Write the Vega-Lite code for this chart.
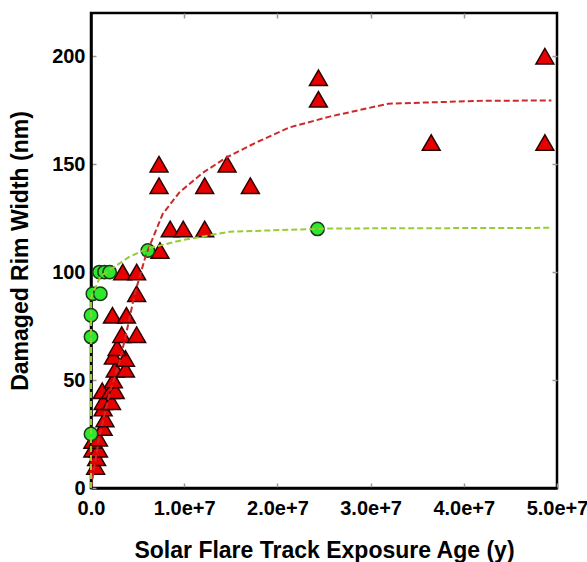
{
  "$schema": "https://vega.github.io/schema/vega-lite/v6.json",
  "width": 466,
  "height": 475,
  "autosize": "none",
  "padding": {"left": 91, "top": 13, "right": 30, "bottom": 74},
  "background": "white",
  "config": {
    "view": {"stroke": "black", "strokeWidth": 2.5},
    "axis": {
      "grid": false,
      "domainColor": "black",
      "domainWidth": 2.5,
      "tickColor": "#999999",
      "tickWidth": 1.5,
      "tickSize": -5,
      "labelFont": "Liberation Sans",
      "labelFontWeight": "bold",
      "labelFontSize": 20,
      "labelColor": "black",
      "titleFont": "Liberation Sans",
      "titleFontWeight": "bold",
      "titleFontSize": 23,
      "titleColor": "black",
      "labelOverlap": false,
      "labelFlush": false,
      "labelBound": false
    }
  },
  "datasets": {
    "tri": [
      {"age": 500000, "rim": 10}, {"age": 600000, "rim": 14}, {"age": 200000, "rim": 18},
      {"age": 800000, "rim": 18}, {"age": 200000, "rim": 22}, {"age": 800000, "rim": 23},
      {"age": 1300000, "rim": 28}, {"age": 1500000, "rim": 32}, {"age": 1300000, "rim": 37},
      {"age": 1300000, "rim": 40}, {"age": 2200000, "rim": 40}, {"age": 1200000, "rim": 45},
      {"age": 2100000, "rim": 45}, {"age": 2600000, "rim": 45}, {"age": 2400000, "rim": 50},
      {"age": 2600000, "rim": 55}, {"age": 3700000, "rim": 55}, {"age": 2400000, "rim": 61},
      {"age": 3700000, "rim": 60}, {"age": 2800000, "rim": 65}, {"age": 3300000, "rim": 71},
      {"age": 4900000, "rim": 71}, {"age": 2300000, "rim": 80}, {"age": 3800000, "rim": 80},
      {"age": 4900000, "rim": 90}, {"age": 3400000, "rim": 100}, {"age": 4900000, "rim": 100},
      {"age": 7400000, "rim": 110}, {"age": 8500000, "rim": 120}, {"age": 9900000, "rim": 120},
      {"age": 12200000, "rim": 120}, {"age": 7300000, "rim": 140}, {"age": 7300000, "rim": 150},
      {"age": 12200000, "rim": 140}, {"age": 14600000, "rim": 150}, {"age": 17100000, "rim": 140},
      {"age": 24400000, "rim": 190}, {"age": 24400000, "rim": 180}, {"age": 36500000, "rim": 160},
      {"age": 48700000, "rim": 160}, {"age": 48700000, "rim": 200}
    ],
    "circ": [
      {"age": 0, "rim": 25}, {"age": 0, "rim": 70}, {"age": 0, "rim": 80}, {"age": 200000, "rim": 90},
      {"age": 1000000, "rim": 90}, {"age": 900000, "rim": 100}, {"age": 1450000, "rim": 100},
      {"age": 2000000, "rim": 100}, {"age": 6100000, "rim": 110}, {"age": 24300000, "rim": 120}
    ],
    "redfit": [
      {"i": 0, "age": 0, "rim": 0}, {"i": 1, "age": 900000, "rim": 24}, {"i": 2, "age": 2000000, "rim": 44},
      {"i": 3, "age": 3100000, "rim": 59}, {"i": 4, "age": 3800000, "rim": 72}, {"i": 5, "age": 4700000, "rim": 90},
      {"i": 6, "age": 5900000, "rim": 108}, {"i": 7, "age": 7700000, "rim": 127}, {"i": 8, "age": 9500000, "rim": 137},
      {"i": 9, "age": 12000000, "rim": 146}, {"i": 10, "age": 14500000, "rim": 153}, {"i": 11, "age": 17700000, "rim": 160},
      {"i": 12, "age": 21300000, "rim": 167}, {"i": 13, "age": 25600000, "rim": 172}, {"i": 14, "age": 31900000, "rim": 178},
      {"i": 15, "age": 41700000, "rim": 179.3}, {"i": 16, "age": 49400000, "rim": 179.5}
    ],
    "greenfit": [
      {"i": 0, "age": 0, "rim": 0}, {"i": 1, "age": 0, "rim": 88}, {"i": 2, "age": 1000000, "rim": 98},
      {"i": 3, "age": 2000000, "rim": 101}, {"i": 4, "age": 4100000, "rim": 107}, {"i": 5, "age": 6100000, "rim": 111},
      {"i": 6, "age": 10000000, "rim": 115}, {"i": 7, "age": 14900000, "rim": 118.7}, {"i": 8, "age": 25600000, "rim": 120.2},
      {"i": 9, "age": 49400000, "rim": 120.5}
    ]
  },
  "layer": [
    {
      "data": {"name": "tri"},
      "mark": {"type": "point", "shape": "triangle-up", "filled": true, "size": 320, "fill": "#e60000", "stroke": "#2a0000", "strokeWidth": 1.5, "opacity": 1},
      "encoding": {
        "x": {
          "field": "age", "type": "quantitative",
          "scale": {"domain": [0, 50000000], "nice": false, "zero": true},
          "axis": {
            "orient": "bottom",
            "title": "Solar Flare Track Exposure Age (y)",
            "values": [0, 10000000, 20000000, 30000000, 40000000, 50000000],
            "labelExpr": "datum.value == 0 ? '0.0' : format(datum.value / 10000000, '.1f') + 'e+7'",
            "labelPadding": 15,
            "titlePadding": 21
          }
        },
        "y": {
          "field": "rim", "type": "quantitative",
          "scale": {"domain": [0, 220], "nice": false},
          "axis": {
            "orient": "left",
            "title": "Damaged Rim Width (nm)",
            "values": [0, 50, 100, 150, 200],
            "labelPadding": 11,
            "titlePadding": 19
          }
        }
      }
    },
    {
      "data": {"name": "circ"},
      "mark": {"type": "circle", "size": 180, "fill": "#2ee82e", "stroke": "#1a3a1a", "strokeWidth": 1.5, "opacity": 1},
      "encoding": {
        "x": {
          "field": "age", "type": "quantitative",
          "axis": {"orient": "top", "title": null, "labels": false, "domain": false, "values": [10000000, 20000000, 30000000, 40000000]}
        },
        "y": {
          "field": "rim", "type": "quantitative",
          "axis": {"orient": "right", "title": null, "labels": false, "domain": false, "values": [50, 100, 150, 200]}
        }
      }
    },
    {
      "data": {"name": "redfit"},
      "mark": {"type": "line", "color": "#cc2a2a", "strokeWidth": 2, "strokeDash": [6, 3]},
      "encoding": {
        "x": {"field": "age", "type": "quantitative", "axis": null},
        "y": {"field": "rim", "type": "quantitative", "axis": null},
        "order": {"field": "i", "type": "quantitative"}
      }
    },
    {
      "data": {"name": "greenfit"},
      "mark": {"type": "line", "color": "#99cc33", "strokeWidth": 2, "strokeDash": [6, 3]},
      "encoding": {
        "x": {"field": "age", "type": "quantitative", "axis": null},
        "y": {"field": "rim", "type": "quantitative", "axis": null},
        "order": {"field": "i", "type": "quantitative"}
      }
    }
  ],
  "resolve": {"axis": {"x": "independent", "y": "independent"}}
}
